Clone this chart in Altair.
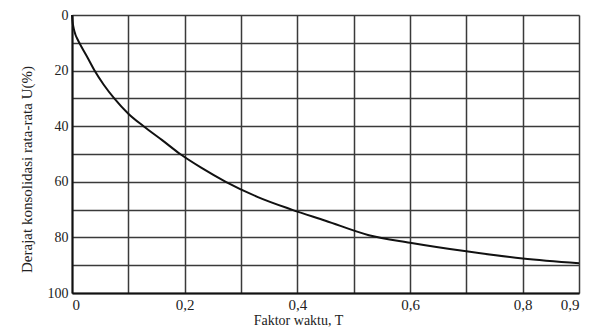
import altair as alt
import pandas as pd

# Time factor T and average degree of consolidation U (%)
T_values = [0, 0.001, 0.003, 0.006, 0.01, 0.017, 0.028, 0.04, 0.056, 0.075, 0.1, 0.127,
            0.16, 0.192, 0.23, 0.273, 0.33, 0.39, 0.45, 0.527, 0.6, 0.7, 0.8, 0.9]
U_values = [0, 2.5, 4.8, 7.0, 8.8, 11.5, 15.5, 20, 25, 30, 35.5, 40,
            45, 50, 55, 60, 65.5, 70, 74, 79.2, 81.9, 85.0, 87.6, 89.3]

x_grid = [0, 0.1, 0.2, 0.3, 0.4, 0.5, 0.6, 0.7, 0.8, 0.9]
x_labeled = [0, 2, 4, 6, 8, 9]  # tenths that carry a label
y_grid = [0, 10, 20, 30, 40, 50, 60, 70, 80, 90, 100]
y_labels = [0, 20, 40, 60, 80, 100]

df = pd.DataFrame({"T": T_values, "U": U_values})

FONT = "Liberation Serif"

label_expr_x = (
    "indexof(" + str(x_labeled) + ", round(datum.value*10)) >= 0 ? "
    "(datum.value == 0 ? '0' : replace(format(datum.value, '.1f'), '.', ',')) : ''"
)
label_expr_y = "indexof(" + str(y_labels) + ", datum.value) >= 0 ? datum.label : ''"

chart = alt.Chart(df).mark_line(color="#111111", strokeWidth=2, interpolate="monotone").encode(
    x=alt.X(
        "T:Q",
        scale=alt.Scale(domain=[0, 0.9], nice=False, zero=False),
        axis=alt.Axis(
            values=x_grid,
            labelExpr=label_expr_x,
            title="Faktor waktu, T",
            titleX=226,
            titleY=27,
            titleBaseline="middle",
            titleAlign="center",
            titleFont=FONT,
            titleFontSize=14,
            titleFontWeight="normal",
            titleColor="#222222",
            labelFont=FONT,
            labelFontSize=15,
            labelColor="#222222",
            labelPadding=4,
            labelFlush=True,
            ticks=False,
            grid=True,
            gridColor="#3a3a3a",
            gridWidth=1.5,
            domainColor="#111111",
            domainWidth=2,
        ),
    ),
    y=alt.Y(
        "U:Q",
        scale=alt.Scale(domain=[0, 100], reverse=True, nice=False),
        axis=alt.Axis(
            values=y_grid,
            labelExpr=label_expr_y,
            title="Derajat konsolidasi rata-rata U(%)",
            titleX=-46,
            titleY=154,
            titleAngle=-90,
            titleBaseline="middle",
            titleAlign="center",
            titleFont=FONT,
            titleFontSize=15,
            titleFontWeight="normal",
            titleColor="#222222",
            labelFont=FONT,
            labelFontSize=14,
            labelColor="#222222",
            labelPadding=4,
            labelFlush=False,
            ticks=False,
            grid=True,
            gridColor="#3a3a3a",
            gridWidth=1.5,
            domainColor="#111111",
            domainWidth=2,
        ),
    ),
).properties(
    width=507,
    height=278,
    autosize=alt.AutoSizeParams(type="none"),
    padding={"left": 64, "top": 7, "right": 5, "bottom": 34},
).configure_view(
    stroke="#111111",
    strokeWidth=2,
).configure(background="white")

chart.save("out.html", embed_options={"renderer": "svg", "actions": False})
